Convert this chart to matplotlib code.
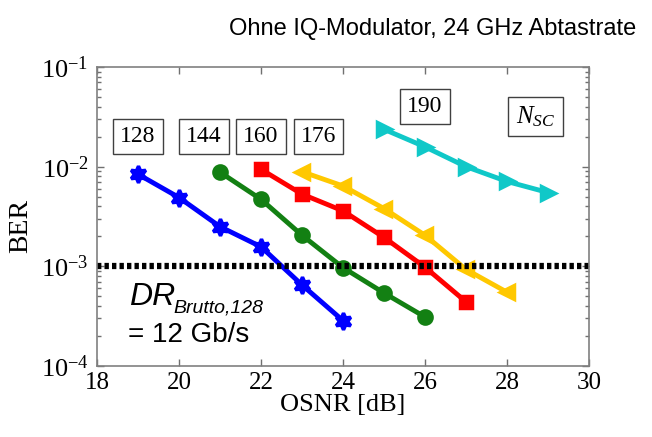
import numpy as np
import matplotlib
matplotlib.use("Agg")
import matplotlib.pyplot as plt
from matplotlib.ticker import LogLocator, LogFormatterMathtext, NullFormatter

plt.rcParams['mathtext.fontset'] = 'custom'
plt.rcParams['mathtext.rm'] = 'Liberation Serif'
plt.rcParams['mathtext.it'] = 'Liberation Serif:italic'

# OSNR [dB] und BER je Anzahl Unterträger
osnr_128 = [19, 20, 21, 22, 23, 24]
ber_128 = [8.4e-3, 4.9e-3, 2.5e-3, 1.57e-3, 6.5e-4, 2.85e-4]
osnr_144 = [21, 22, 23, 24, 25, 26]
ber_144 = [8.8e-3, 4.7e-3, 2.05e-3, 9.7e-4, 5.4e-4, 3.1e-4]
osnr_160 = [22, 23, 24, 25, 26, 27]
ber_160 = [9.4e-3, 5.3e-3, 3.6e-3, 1.95e-3, 9.8e-4, 4.4e-4]
osnr_176 = [23, 24, 25, 26, 27, 28]
ber_176 = [8.9e-3, 6.4e-3, 3.8e-3, 2.05e-3, 9.3e-4, 5.5e-4]
osnr_190 = [25, 26, 27, 28, 29]
ber_190 = [2.37e-2, 1.58e-2, 1.0e-2, 7.1e-3, 5.5e-3]

ber_grenze = 1e-3
labels = ['128', '144', '160', '176', '190']
label_x = [19.0, 20.6, 22.0, 23.4, 26.0]
label_y = [2.0e-2, 2.0e-2, 2.0e-2, 2.0e-2, 4.0e-2]

fig = plt.figure(figsize=(6.52, 4.37), dpi=100)
ax = fig.add_axes([0.1488, 0.1625, 0.7546, 0.6842])

hexagramm = (6, 1, 0)
kurven = [
    (osnr_128, ber_128, '#0000ff', hexagramm, 12),
    (osnr_144, ber_144, '#138013', 'o', 9.5),
    (osnr_160, ber_160, '#ff0000', 's', 8.5),
    (osnr_176, ber_176, '#ffc800', '<', 10),
    (osnr_190, ber_190, '#10c8c8', '>', 10),
]
for x, y, c, m, ms in kurven:
    ax.plot(x, y, color=c, marker=m, lw=3.5, ms=ms, mec=c, mfc=c, mew=2.5)

ax.axhline(ber_grenze, color='black', ls=(0, (0.7, 0.5)), lw=4.5)

ax.set_yscale('log')
ax.set_xlim(18, 30)
ax.set_ylim(1e-4, 1e-1)
ax.set_xticks(range(18, 31, 2))
ax.yaxis.set_major_locator(LogLocator(base=10, numticks=10))
ax.yaxis.set_major_formatter(LogFormatterMathtext())
ax.yaxis.set_minor_locator(LogLocator(base=10, subs=np.arange(2, 10), numticks=10))
ax.yaxis.set_minor_formatter(NullFormatter())
ax.tick_params(which='both', direction='in', top=True, right=True, colors='#707070',
               labelcolor='black')
ax.tick_params(which='major', length=5, width=1)
ax.tick_params(which='minor', length=3, width=1)
ax.tick_params(axis='x', labelsize=18, pad=4)
ax.tick_params(axis='y', labelsize=19, pad=6)
for lab in ax.get_xticklabels() + ax.get_yticklabels():
    lab.set_fontfamily('Liberation Serif')
for s in ax.spines.values():
    s.set_color('#808080')
    s.set_linewidth(1.2)

ax.set_xlabel('OSNR [dB]', fontfamily='Liberation Serif', fontsize=19, labelpad=0)
ax.set_ylabel('BER', fontfamily='Liberation Serif', fontsize=20)
ax.yaxis.set_label_coords(-0.13, 0.47)

box = dict(boxstyle='square,pad=0.3', fc='white', ec='#404040', lw=1)
for t, lx, ly in zip(labels, label_x, label_y):
    ax.text(lx, ly, t, ha='center', va='center', fontsize=17,
            fontfamily='Liberation Serif', bbox=box)
ax.text(28.7, 3.2e-2, r'$\mathit{N}_{\mathit{SC}}$', ha='center', va='center',
        fontsize=18, bbox=dict(boxstyle='square,pad=0.3', fc='white', ec='#404040', lw=1))

fig.text(0.198, 0.302, 'DR', fontfamily='Liberation Sans', style='italic', fontsize=23,
         va='baseline')
fig.text(0.266, 0.286, 'Brutto,128', fontfamily='Liberation Sans', style='italic',
         fontsize=14, va='baseline')
fig.text(0.196, 0.217, '= 12 Gb/s', fontfamily='Liberation Sans', fontsize=20,
         va='baseline')

fig.text(0.976, 0.92, 'Ohne IQ-Modulator, 24 GHz Abtastrate', ha='right',
         va='baseline', fontfamily='Liberation Sans', fontsize=17)

fig.savefig('out.png', dpi=100)
